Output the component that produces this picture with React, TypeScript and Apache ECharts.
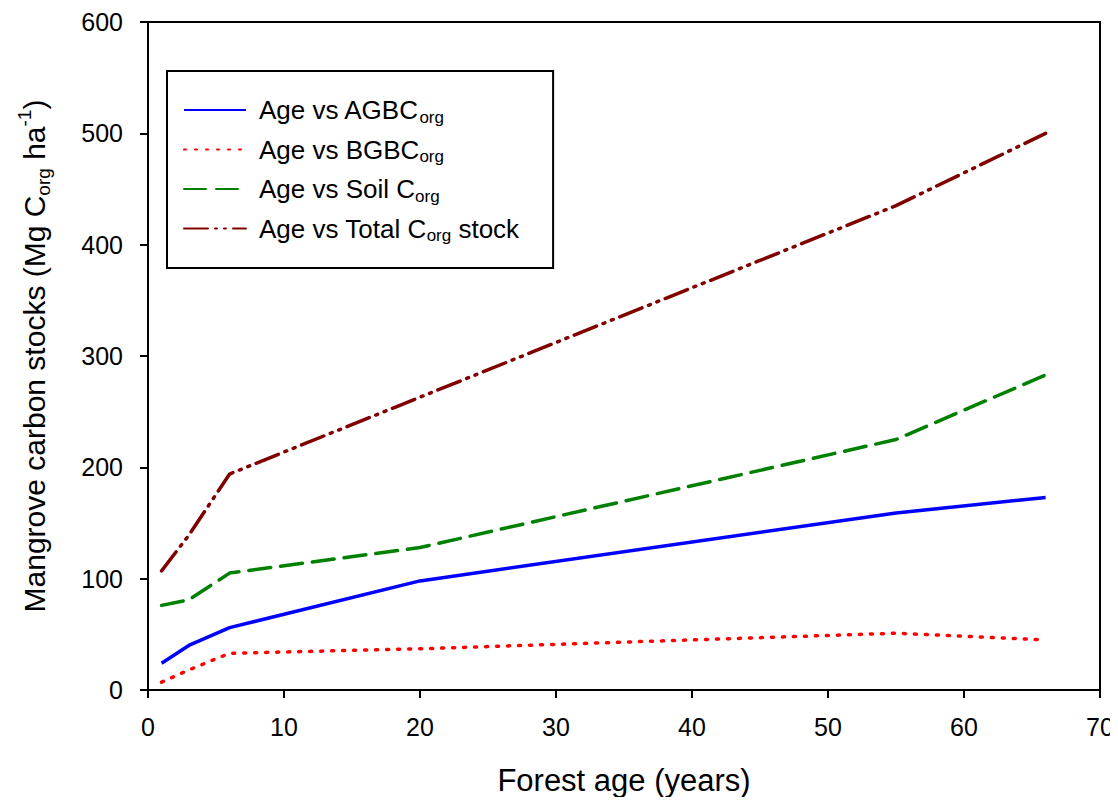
import React, { useEffect, useRef } from "react";
import * as echarts from "echarts";

const ages = [1, 3, 6, 20, 55, 66];
const agbc = [24, 40, 56, 98, 159, 173];
const bgbc = [7, 18, 33, 37, 51, 45];
const soil = [76, 81, 105, 128, 225, 283];
const total = [107, 139, 194, 263, 435, 500];

const xTicks = { min: 0, max: 70, interval: 10 };
const yTicks = { min: 0, max: 600, interval: 100 };

const legendNames = [
  "Age vs AGBC_org",
  "Age vs BGBC_org",
  "Age vs Soil C_org",
  "Age vs Total C_org stock",
];
const legendRich: Record<string, string> = {
  "Age vs AGBC_org": "{a|Age vs AGBC}{s|org}",
  "Age vs BGBC_org": "{a|Age vs BGBC}{s|org}",
  "Age vs Soil C_org": "{a|Age vs Soil C}{s|org}",
  "Age vs Total C_org stock": "{a|Age vs Total C}{s|org}{b| stock}",
};

const FONT = "Liberation Sans, Arial, sans-serif";

export default function App() {
  const ref = useRef<HTMLDivElement>(null);
  useEffect(() => {
    if (!ref.current) return;
    const chart = echarts.init(ref.current, undefined, { renderer: "svg" });
    const mk = (ys: number[]) => ages.map((a, i) => [a, ys[i]]);
    const lineSeries = (name: string, ys: number[], color: string, type: any, width = 3) => ({
      name,
      type: "line",
      data: mk(ys),
      symbol: "none",
      smooth: false,
      lineStyle: { color, width, type, cap: type === "solid" ? "butt" : "round" },
      itemStyle: { color },
    });
    chart.setOption({
      animation: false,
      backgroundColor: "#ffffff",
      textStyle: { fontFamily: FONT },
      grid: {
        left: 148,
        right: 18,
        top: 22,
        bottom: 115,
        show: true,
        borderColor: "#000",
        borderWidth: 2,
        backgroundColor: "transparent",
        containLabel: false,
        outerBoundsMode: "none",
      },
      xAxis: {
        type: "value",
        min: xTicks.min,
        max: xTicks.max,
        interval: xTicks.interval,
        name: "Forest age (years)",
        nameLocation: "middle",
        nameGap: 75,
        nameTextStyle: { fontSize: 31, color: "#000", fontFamily: FONT },
        axisLine: { show: true, lineStyle: { color: "#000", width: 2 } },
        axisTick: { show: true, inside: false, length: 8, lineStyle: { color: "#000", width: 2 } },
        axisLabel: { fontSize: 25, color: "#000", margin: 24, fontFamily: FONT },
        splitLine: { show: false },
      },
      yAxis: {
        type: "value",
        min: yTicks.min,
        max: yTicks.max,
        interval: yTicks.interval,
        name: "{a|Mangrove carbon stocks (Mg C}{s|org}{a| ha}{p|-1}{a|)}",
        nameLocation: "middle",
        nameRotate: 90,
        nameGap: 95,
        nameTextStyle: {
          color: "#000",
          fontFamily: FONT,
          rich: {
            a: { fontSize: 30, lineHeight: 38, color: "#000", fontFamily: FONT },
            s: { fontSize: 19, lineHeight: 19, verticalAlign: "bottom", color: "#000", fontFamily: FONT },
            p: { fontSize: 19, lineHeight: 19, verticalAlign: "top", color: "#000", fontFamily: FONT },
          },
        },
        axisLine: { show: true, lineStyle: { color: "#000", width: 2 } },
        axisTick: { show: true, inside: false, length: 8, lineStyle: { color: "#000", width: 2 } },
        axisLabel: { fontSize: 25, color: "#000", margin: 25, fontFamily: FONT },
        splitLine: { show: false },
      },
      legend: {
        show: true,
        orient: "vertical",
        left: 167,
        top: 71,
        data: legendNames,
        borderColor: "#000",
        borderWidth: 2,
        borderRadius: 0,
        padding: [26, 34, 24, 16],
        itemWidth: 62,
        itemHeight: 14,
        itemGap: 11,
        itemStyle: { opacity: 0 },
        formatter: (n: string) => legendRich[n] || n,
        textStyle: {
          color: "#000",
          fontFamily: FONT,
          rich: {
            a: { fontSize: 26, lineHeight: 31, color: "#000", fontFamily: FONT, padding: [0, 0, 0, 8] },
            b: { fontSize: 26, lineHeight: 31, color: "#000", fontFamily: FONT },
            s: { fontSize: 17, lineHeight: 17, verticalAlign: "bottom", color: "#000", fontFamily: FONT },
          },
        },
      },
      series: [
        lineSeries(legendNames[0], agbc, "#0000ff", "solid", 3.5),
        lineSeries(legendNames[1], bgbc, "#ff0000", [2, 9], 3.5),
        lineSeries(legendNames[2], soil, "#008000", [22, 10], 3.5),
        lineSeries(legendNames[3], total, "#800000", [24, 7, 2, 7, 2, 7], 3.5),
      ],
    });
    return () => chart.dispose();
  }, []);
  return <div ref={ref} style={{ width: 1118, height: 805, margin: -8 }} />;
}
